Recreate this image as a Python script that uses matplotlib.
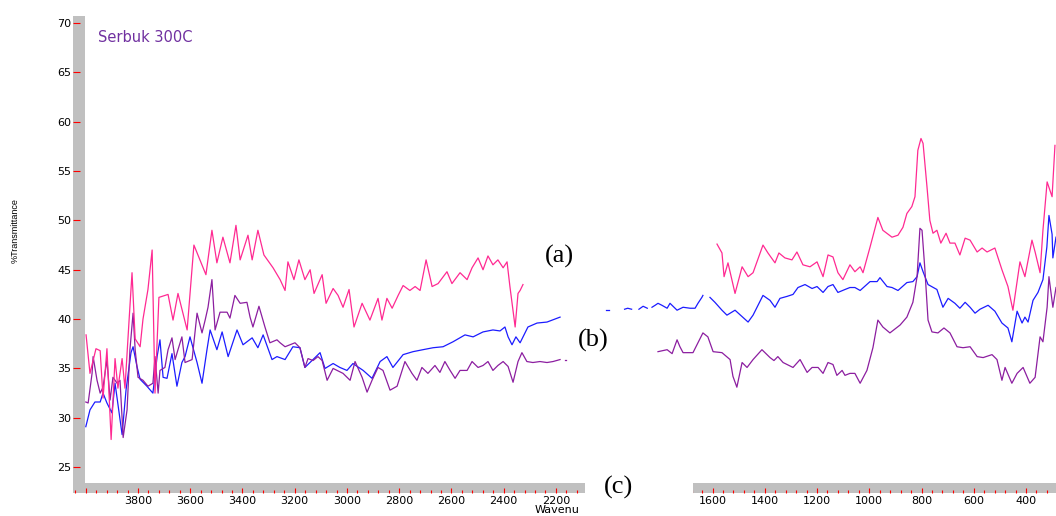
import matplotlib
matplotlib.use('Agg')
import matplotlib.pyplot as plt
from matplotlib.patches import Rectangle
from matplotlib.ticker import FixedLocator, MultipleLocator, FixedFormatter

# ---------------- data (wavenumber cm-1, %T) ----------------
pink_left_wn = [3999, 3984, 3961, 3945, 3934, 3919, 3903, 3888, 3877, 3861, 3850, 3834, 3823, 3811,
                3792, 3781, 3762, 3746, 3735, 3720, 3685, 3666, 3647, 3612, 3586, 3563, 3540, 3517,
                3498, 3475, 3448, 3425, 3409, 3379, 3363, 3341, 3318, 3283, 3256, 3237, 3226, 3203,
                3184, 3161, 3141, 3126, 3095, 3080, 3053, 3034, 3015, 2992, 2973, 2942, 2912, 2881,
                2866, 2847, 2827, 2804, 2785, 2759, 2739, 2720, 2697, 2674, 2651, 2617, 2598, 2567,
                2540, 2521, 2498, 2479, 2460, 2441, 2422, 2402, 2387, 2376, 2356, 2345, 2337, 2326]
pink_left_t = [38.4, 34.5, 37.0, 36.8, 32.0, 37.0, 27.8, 36.0, 33.0, 36.0, 33.0, 40.0, 44.7, 38.0,
               37.2, 40.0, 43.0, 47.0, 32.5, 42.2, 42.5, 39.9, 42.6, 38.9, 47.5, 46.0, 44.5, 49.0,
               45.7, 48.3, 45.7, 49.5, 46.0, 48.5, 46.0, 49.0, 46.5, 45.2, 44.0, 42.9, 45.8, 44.0,
               46.0, 44.0, 45.0, 42.6, 44.5, 41.6, 43.1, 42.4, 41.2, 43.0, 39.2, 41.6, 39.9, 42.1,
               39.9, 42.1, 41.1, 42.4, 43.4, 42.9, 43.3, 42.9, 46.0, 43.3, 43.6, 44.8, 43.6, 44.7,
               44.0, 45.2, 46.2, 45.0, 46.4, 45.5, 46.0, 45.2, 45.8, 43.3, 39.2, 42.6, 42.9, 43.5]

pink_right_wn = [1583, 1564, 1556, 1541, 1514, 1487, 1464, 1445, 1407, 1388, 1361, 1346, 1323, 1296,
                 1277, 1254, 1227, 1200, 1177, 1158, 1139, 1120, 1101, 1074, 1055, 1035, 1024, 997,
                 967, 948, 913, 890, 871, 856, 837, 825, 814, 802, 794, 779, 768, 756, 741, 726, 706,
                 691, 672, 653, 633, 614, 587, 568, 549, 519, 492, 469, 450, 423, 404, 377, 365, 346,
                 335, 319, 300, 289]
pink_right_t = [47.6, 46.7, 44.3, 45.7, 42.6, 45.3, 44.3, 44.7, 47.5, 46.7, 45.7, 46.7, 46.2, 46.0,
                46.8, 45.5, 45.3, 45.8, 44.3, 46.5, 46.3, 44.7, 44.0, 45.5, 44.8, 45.3, 44.7, 47.3,
                50.3, 49.0, 48.3, 48.5, 49.3, 50.7, 51.4, 52.4, 57.1, 58.3, 57.8, 53.4, 50.0, 48.7,
                49.0, 47.7, 48.7, 47.7, 47.7, 46.5, 48.2, 48.0, 46.8, 47.2, 46.8, 47.2, 45.0, 43.3,
                40.9, 45.8, 44.3, 48.0, 46.8, 44.7, 49.0, 53.9, 52.4, 57.6]

blue_left_wn = [4000, 3984, 3965, 3945, 3934, 3919, 3900, 3888, 3861, 3846, 3827, 3819, 3804, 3792,
                3766, 3743, 3727, 3716, 3704, 3689, 3670, 3651, 3632, 3620, 3601, 3574, 3555, 3536,
                3524, 3498, 3478, 3455, 3421, 3398, 3363, 3341, 3321, 3287, 3268, 3237, 3207, 3180,
                3161, 3130, 3103, 3084, 3053, 3027, 3000, 2977, 2938, 2904, 2873, 2847, 2824, 2785,
                2747, 2709, 2670, 2632, 2594, 2548, 2517, 2479, 2441, 2414, 2395, 2383, 2368, 2353,
                2337, 2307, 2272, 2234, 2184]
blue_left_t = [29.1, 30.8, 31.6, 31.6, 32.5, 31.5, 30.5, 33.5, 28.3, 32.8, 36.6, 37.2, 35.2, 33.9,
               33.2, 32.5, 36.2, 37.9, 34.1, 34.0, 36.5, 33.2, 35.6, 36.2, 38.2, 35.6, 33.5, 36.9,
               38.9, 36.9, 38.7, 36.2, 38.9, 37.4, 38.1, 37.1, 38.4, 35.9, 36.2, 35.9, 37.2, 37.1,
               35.1, 35.9, 36.6, 35.0, 35.5, 35.1, 34.8, 35.5, 34.8, 34.0, 35.7, 36.2, 35.1, 36.4,
               36.7, 36.9, 37.1, 37.2, 37.7, 38.4, 38.2, 38.7, 38.9, 38.8, 39.2, 38.2, 37.4, 38.2,
               37.6, 39.2, 39.6, 39.7, 40.2]

# faint broken fragments of the blue trace inside the cut-out region
blue_frag1_wn = [2008, 1998]
blue_frag1_t = [40.9, 40.9]
blue_frag2_wn = [1937, 1925, 1910]
blue_frag2_t = [41.0, 41.1, 41.0]
blue_frag3_wn = [1882, 1866, 1850]
blue_frag3_t = [41.0, 41.3, 41.1]
blue_gap_wn = [1832, 1820, 1809, 1794, 1774, 1763, 1736, 1713, 1686, 1667, 1656, 1641, 1637]
blue_gap_t = [41.2, 41.4, 41.6, 41.4, 41.1, 41.6, 40.9, 41.2, 41.1, 41.1, 41.6, 42.2, 42.4]

blue_right_wn = [1610, 1591, 1564, 1545, 1514, 1464, 1445, 1407, 1380, 1361, 1342, 1315, 1292, 1273,
                 1246, 1219, 1200, 1177, 1158, 1139, 1120, 1093, 1074, 1055, 1035, 997, 970, 959, 932,
                 913, 890, 856, 833, 817, 806, 794, 775, 741, 718, 698, 672, 653, 633, 614, 595, 576,
                 545, 519, 492, 469, 454, 434, 415, 404, 392, 373, 354, 335, 320, 312, 300, 297, 285]
blue_right_t = [42.2, 41.7, 40.9, 40.4, 40.9, 39.7, 40.4, 42.4, 41.9, 41.2, 42.1, 42.3, 42.5, 43.2,
                43.5, 43.1, 43.3, 42.7, 43.3, 43.5, 42.7, 43.0, 43.2, 43.2, 42.9, 43.8, 43.8, 44.2, 43.3,
                43.2, 42.9, 43.7, 43.8, 44.3, 45.7, 44.8, 43.5, 43.0, 41.2, 42.1, 41.6, 41.1, 41.7, 41.2,
                40.6, 41.0, 41.4, 40.8, 39.6, 39.1, 37.7, 40.8, 39.6, 40.2, 39.7, 41.9, 42.7, 44.0,
                47.3, 50.5, 48.6, 46.2, 48.3]

purple_left_wn = [4000, 3991, 3976, 3972, 3957, 3945, 3934, 3919, 3907, 3896, 3880, 3869, 3857, 3842,
                  3831, 3819, 3811, 3800, 3781, 3762, 3743, 3735, 3723, 3716, 3697, 3685, 3670, 3658,
                  3647, 3632, 3620, 3593, 3574, 3555, 3543, 3532, 3517, 3505, 3486, 3459, 3448, 3429,
                  3409, 3383, 3371, 3360, 3337, 3314, 3295, 3268, 3256, 3237, 3218, 3199, 3180, 3161,
                  3149, 3130, 3111, 3095, 3076, 3053, 3015, 2988, 2969, 2942, 2923, 2904, 2881, 2862,
                  2835, 2808, 2778, 2751, 2732, 2713, 2690, 2663, 2644, 2625, 2605, 2586, 2567, 2540,
                  2521, 2498, 2479, 2460, 2441, 2422, 2402, 2383, 2364, 2345, 2330, 2311, 2288, 2261,
                  2234, 2211, 2184]
purple_left_t = [31.6, 31.5, 34.5, 36.2, 33.8, 32.5, 33.1, 35.9, 31.8, 34.1, 33.5, 33.8, 28.0, 30.8,
                 36.9, 40.6, 36.9, 34.1, 33.8, 33.2, 33.5, 36.2, 32.5, 34.8, 35.1, 36.9, 38.1, 35.9,
                 36.9, 38.2, 35.6, 35.9, 40.6, 38.6, 39.9, 41.2, 44.0, 38.9, 40.7, 40.7, 40.1, 42.4,
                 41.6, 41.7, 40.2, 39.2, 41.3, 39.2, 37.6, 37.9, 37.6, 37.2, 37.4, 37.6, 37.1, 35.1,
                 36.0, 35.8, 36.2, 35.8, 33.8, 35.0, 34.5, 33.8, 35.7, 34.1, 32.6, 33.8, 35.1, 34.8,
                 32.8, 33.2, 35.7, 34.5, 33.8, 35.1, 34.5, 35.3, 34.6, 35.7, 34.8, 34.0, 34.8, 34.8,
                 35.7, 35.1, 35.3, 35.7, 34.8, 35.3, 35.7, 35.2, 33.6, 35.7, 36.6, 35.7, 35.6, 35.7,
                 35.6, 35.7, 35.9]
purple_frag_wn = [2165, 2160]
purple_frag_t = [35.9, 35.9]

purple_right_wn = [1809, 1774, 1755, 1736, 1725, 1713, 1675, 1637, 1618, 1598, 1564, 1533, 1522, 1507,
                   1487, 1468, 1445, 1411, 1380, 1365, 1350, 1330, 1292, 1265, 1238, 1219, 1196, 1177,
                   1158, 1139, 1124, 1104, 1093, 1074, 1055, 1035, 1009, 986, 967, 948, 921, 882, 856,
                   833, 817, 806, 798, 787, 775, 760, 737, 714, 691, 664, 641, 614, 587, 564, 530, 511,
                   492, 480, 454, 434, 411, 385, 365, 346, 335, 319, 312, 297, 285]
purple_right_t = [36.7, 36.9, 36.5, 37.9, 37.2, 36.6, 36.6, 38.6, 38.2, 36.7, 36.6, 35.9, 34.2, 33.1,
                  35.6, 35.1, 35.9, 36.9, 36.1, 35.8, 36.2, 35.6, 35.1, 35.9, 34.6, 35.1, 35.1, 34.5,
                  35.6, 35.4, 34.3, 34.8, 34.3, 34.5, 34.5, 33.5, 34.8, 37.1, 39.9, 39.2, 38.6, 39.4,
                  40.2, 41.7, 44.3, 49.2, 49.0, 45.0, 39.9, 38.7, 38.6, 39.1, 38.6, 37.2, 37.1, 37.2,
                  36.2, 36.1, 36.4, 35.9, 33.8, 35.1, 33.5, 34.5, 35.1, 33.5, 34.1, 38.2, 37.7, 41.2,
                  44.3, 41.2, 43.2]

y_ticks = [25, 30, 35, 40, 45, 50, 55, 60, 65, 70]
x_major = list(range(4000, 399, -200))
x_labels = ['' if v in (4000, 2000, 1800) else str(v) for v in x_major]

PINK = '#ff2a92'
BLUE = '#1c1cff'
PURPLE = '#8c1ea0'
GRAY = '#c0c0c0'
TICKRED = '#ff0000'

# ---------------- figure ----------------
W, H = 1056, 516
fig = plt.figure(figsize=(W / 100, H / 100), dpi=100)
fig.patch.set_facecolor('white')


def fx(px):
    return px / W


def fy(py):
    return 1 - py / H


ax = fig.add_axes([fx(73), fy(493), fx(1056) - fx(73), fy(16) - fy(493)])
ax.set_xlim(4049, 285)
ax.set_ylim(22.38, 70.71)
for s in ax.spines.values():
    s.set_visible(False)

# gray frame bars
ax.add_patch(Rectangle((fx(73), fy(493)), fx(85) - fx(73), fy(16) - fy(493),
                       transform=fig.transFigure, facecolor=GRAY, edgecolor='none',
                       zorder=1, clip_on=False))
ax.add_patch(Rectangle((fx(73), fy(493)), fx(1056) - fx(73), fy(483) - fy(493),
                       transform=fig.transFigure, facecolor=GRAY, edgecolor='none',
                       zorder=1, clip_on=False))

lw = 0.9
ax.plot(pink_left_wn, pink_left_t, color=PINK, lw=lw, zorder=3)
ax.plot(pink_right_wn, pink_right_t, color=PINK, lw=lw, zorder=3)
ax.plot(blue_left_wn, blue_left_t, color=BLUE, lw=lw, zorder=2)
for wn, t in ((blue_frag1_wn, blue_frag1_t), (blue_frag2_wn, blue_frag2_t),
              (blue_frag3_wn, blue_frag3_t), (blue_gap_wn, blue_gap_t)):
    ax.plot(wn, t, color=BLUE, lw=lw, zorder=2)
ax.plot(blue_right_wn, blue_right_t, color=BLUE, lw=lw, zorder=2)
ax.plot(purple_left_wn, purple_left_t, color=PURPLE, lw=lw, zorder=2.5)
ax.plot(purple_frag_wn, purple_frag_t, color=PURPLE, lw=lw, zorder=2.5)
ax.plot(purple_right_wn, purple_right_t, color=PURPLE, lw=lw, zorder=2.5)

# ticks
ax.yaxis.set_major_locator(FixedLocator(y_ticks))
ax.tick_params(axis='y', direction='in', length=5, width=0.8, color=TICKRED,
               labelsize=8, pad=1, labelcolor='black')
ax.xaxis.set_major_locator(FixedLocator(x_major))
ax.xaxis.set_major_formatter(FixedFormatter(x_labels))
ax.xaxis.set_minor_locator(MultipleLocator(40))
ax.tick_params(axis='x', which='major', direction='in', length=3.6, width=0.8,
               color=TICKRED, labelsize=8, pad=2, labelcolor='black')
ax.tick_params(axis='x', which='minor', direction='in', length=2, width=0.8,
               color=TICKRED)

# texts
ax.text(fx(98), fy(37), 'Serbuk 300C', transform=fig.transFigure, color='#7030a0',
        fontsize=10.5, va='center', ha='left')
fig.text(fx(15), fy(231), '%Transmittance', rotation=90, fontsize=6.5,
         family='Liberation Sans', ha='center', va='center')
fig.text(fx(535), fy(505), 'Wavenu', fontsize=8, ha='left', va='top')

# white gap over the broken axis
fig.add_artist(Rectangle((fx(585), fy(516)), fx(693) - fx(585), fy(480) - fy(516),
                         transform=fig.transFigure, facecolor='white', edgecolor='none',
                         zorder=5))

serif = 'Liberation Serif'
fig.text(fx(545), fy(256), '(a)', fontsize=19, family=serif, ha='left', va='center', zorder=6)
fig.text(fx(578), fy(340), '(b)', fontsize=19, family=serif, ha='left', va='center', zorder=6)
fig.text(fx(604), fy(487), '(c)', fontsize=19, family=serif, ha='left', va='center', zorder=6)

fig.savefig('out.png', dpi=100)
